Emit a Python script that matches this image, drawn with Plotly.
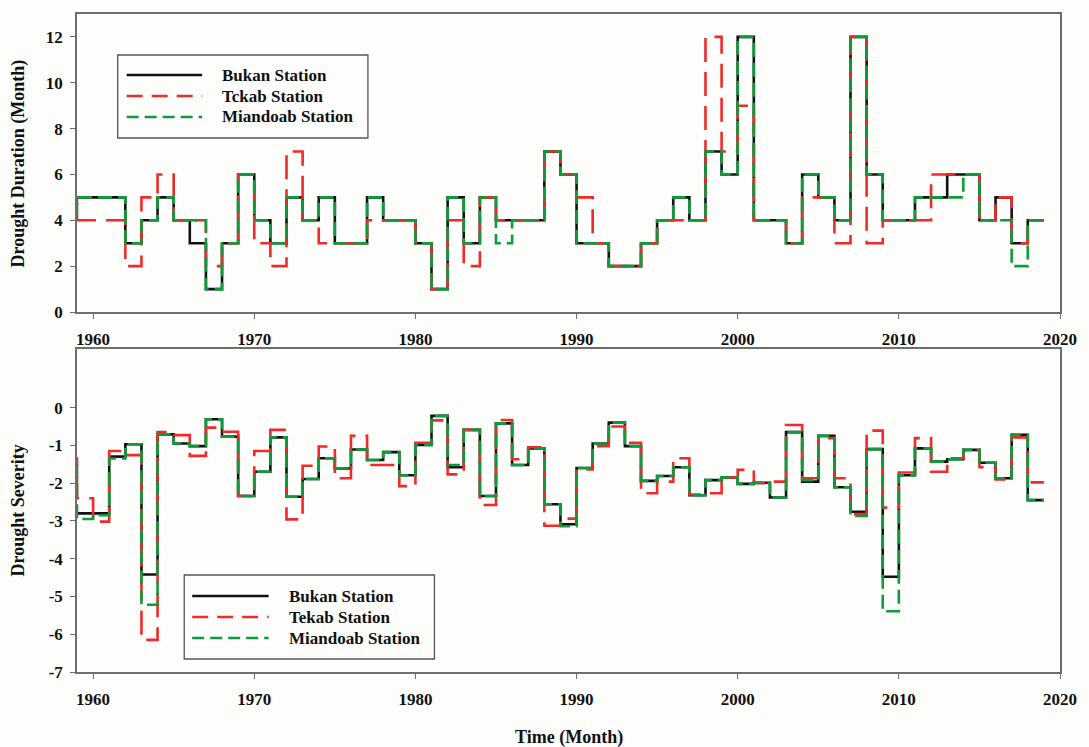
import plotly.graph_objects as go

# Annual drought statistics for three stations (step series, one value per year)
years = list(range(1958, 2019))

# Drought duration (months)
bukan_duration = [5, 5,
                  5, 5, 3, 4, 5, 4, 3, 1, 3, 6,
                  4, 3, 5, 4, 5, 3, 3, 5, 4, 4,
                  3, 1, 5, 3, 5, 4, 4, 4, 7, 6,
                  3, 3, 2, 2, 3, 4, 5, 4, 7, 6,
                  12, 4, 4, 3, 6, 5, 4, 12, 6, 4,
                  4, 5, 5, 6, 6, 4, 5, 3, 4]
tekab_duration = [5, 4,
                  4, 4, 2, 5, 6, 4, 4, 2, 3, 6,
                  3, 2, 7, 4, 3, 3, 3, 4, 4, 4,
                  3, 1, 4, 2, 5, 4, 4, 4, 7, 6,
                  5, 3, 2, 2, 3, 4, 4, 4, 12, 7,
                  9, 4, 4, 3, 5, 5, 3, 12, 3, 4,
                  4, 4, 6, 6, 6, 4, 5, 3, 4]
miandoab_duration = [4, 5,
                     5, 5, 3, 4, 5, 4, 4, 1, 3, 6,
                     4, 3, 5, 4, 5, 3, 3, 5, 4, 4,
                     3, 1, 5, 3, 5, 3, 4, 4, 7, 6,
                     3, 3, 2, 2, 3, 4, 5, 4, 7, 6,
                     12, 4, 4, 3, 6, 5, 4, 12, 6, 4,
                     4, 5, 5, 5, 6, 4, 4, 2, 4]

# Drought severity
bukan_severity = [-2.80, -2.80,
                  -2.80, -1.30, -0.97, -4.42, -0.71, -0.95, -1.02, -0.31, -0.77, -2.34,
                  -1.70, -0.79, -2.36, -1.89, -1.34, -1.61, -1.11, -1.39, -1.18, -1.79,
                  -0.99, -0.22, -1.58, -0.59, -2.34, -0.42, -1.52, -1.08, -2.56, -3.09,
                  -1.60, -0.95, -0.40, -1.02, -1.94, -1.81, -1.58, -2.32, -1.92, -1.85,
                  -2.02, -1.99, -2.38, -0.65, -1.96, -0.75, -2.11, -2.76, -1.10, -4.48,
                  -1.79, -1.08, -1.43, -1.37, -1.12, -1.46, -1.87, -0.72, -2.45]
tekab_severity = [-1.35, -2.40,
                  -3.02, -1.15, -1.26, -6.15, -0.65, -0.73, -1.28, -0.53, -0.64, -2.34,
                  -1.15, -0.59, -2.96, -1.54, -1.03, -1.87, -0.75, -1.52, -1.52, -2.08,
                  -0.93, -0.34, -1.77, -0.59, -2.58, -0.33, -1.37, -1.05, -3.13, -2.94,
                  -1.64, -1.02, -0.50, -0.93, -2.27, -1.96, -1.34, -2.30, -2.27, -1.85,
                  -1.65, -2.00, -1.96, -0.46, -1.87, -0.81, -1.87, -2.82, -0.61, -2.65,
                  -1.72, -0.81, -1.70, -1.34, -1.13, -1.58, -1.90, -0.79, -1.98]
miandoab_severity = [-1.40, -2.95,
                     -2.85, -1.35, -0.97, -5.22, -0.71, -0.95, -1.02, -0.31, -0.77, -2.34,
                     -1.70, -0.79, -2.36, -1.89, -1.34, -1.61, -1.11, -1.39, -1.18, -1.79,
                     -0.99, -0.22, -1.52, -0.59, -2.34, -0.42, -1.52, -1.08, -2.56, -3.14,
                     -1.60, -0.95, -0.40, -1.02, -1.94, -1.81, -1.58, -2.32, -1.92, -1.85,
                     -2.02, -1.99, -2.38, -0.65, -1.92, -0.75, -2.11, -2.87, -1.10, -5.39,
                     -1.79, -1.08, -1.43, -1.37, -1.12, -1.46, -1.87, -0.72, -2.45]

x_ticks = [1960, 1970, 1980, 1990, 2000, 2010, 2020]
duration_ticks = [0, 2, 4, 6, 8, 10, 12]
severity_ticks = [0, -1, -2, -3, -4, -5, -6, -7]
severity_ticktext = ["0", "-1", "-2", "-3", "-4", "-5", "-6", "-7"]

top_names = ["Bukan Station", "Tckab Station", "Miandoab Station"]
bottom_names = ["Bukan Station", "Tekab Station", "Miandoab Station"]

SERIF = "Liberation Serif"
BLACK = "#111111"
RED = "#ee2a2a"
GREEN = "#0f9a3c"
FRAME = "#6e6e6e"
BG = "#fdfdfb"

styles = [
    dict(color=BLACK, width=2.6, dash="solid"),
    dict(color=RED, width=2.6, dash="24px,10px"),
    dict(color=GREEN, width=2.6, dash="14px,6px"),
]
legend_dash = ["solid", "16px,9px", "12px,6px"]


def steps(vals):
    # each value holds for one year: extend to the end of the final year
    return years + [years[-1] + 1], list(vals) + [vals[-1]]


fig = go.Figure()
for vals, st in zip([bukan_duration, tekab_duration, miandoab_duration], styles):
    xs, ys = steps(vals)
    fig.add_trace(go.Scatter(x=xs, y=ys, mode="lines", line=dict(shape="hv", **st),
                             xaxis="x", yaxis="y", showlegend=False))
for vals, st in zip([bukan_severity, tekab_severity, miandoab_severity], styles):
    xs, ys = steps(vals)
    fig.add_trace(go.Scatter(x=xs, y=ys, mode="lines", line=dict(shape="hv", **st),
                             xaxis="x2", yaxis="y2", showlegend=False))

# plot-area geometry in pixels
W, H = 1089, 747
ML, MR, MT, MB = 77, 22, 14, 75
PW, PH = W - ML - MR, H - MT - MB


def px(xp):
    return (xp - ML) / PW


def py(yp):
    return (H - MB - yp) / PH


tickfont = dict(family=SERIF, size=17, color="#111111", weight="bold")
axis_common = dict(showline=True, linecolor=FRAME, linewidth=1.5, mirror=True,
                   showgrid=False, zeroline=False, ticks="outside", ticklen=5,
                   tickcolor=FRAME, tickwidth=1.2, tickfont=tickfont)

fig.update_layout(
    width=W, height=H,
    margin=dict(l=ML, r=MR, t=MT, b=MB),
    paper_bgcolor=BG, plot_bgcolor=BG,
    xaxis=dict(domain=[0, 1], range=[1959, 2020], tickvals=x_ticks, anchor="y",
               ticklabelstandoff=6, **axis_common),
    yaxis=dict(domain=[py(312), 1], range=[0, 13], tickvals=duration_ticks, anchor="x",
               ticklabelstandoff=4, **axis_common),
    xaxis2=dict(domain=[0, 1], range=[1959, 2020], tickvals=x_ticks, anchor="y2",
                ticklabelstandoff=6, **axis_common),
    yaxis2=dict(domain=[0, py(349)], range=[-7, 1.55], tickvals=severity_ticks,
                ticktext=severity_ticktext, anchor="x2", ticklabelstandoff=4, **axis_common),
)

titlefont = dict(family=SERIF, size=18, color="#111111", weight="bold")
for text, x, y, angle in [("Drought Duration (Month)", 18, 163, -90),
                          ("Drought Severity", 18, 510, -90),
                          ("Time (Month)", 572, 737, 0)]:
    fig.add_annotation(text=text, xref="paper", yref="paper", x=px(x), y=py(y),
                       xanchor="center", yanchor="middle", textangle=angle,
                       showarrow=False, font=titlefont)


def draw_legend(box, line_x, text_x, rows_y, names):
    x0, y0, x1, y1 = box
    fig.add_shape(type="rect", xref="paper", yref="paper",
                  x0=px(x0), x1=px(x1), y0=py(y0), y1=py(y1),
                  line=dict(color="#555555", width=1.3), fillcolor=BG, layer="above")
    for name, ry, st, dash in zip(names, rows_y, styles, legend_dash):
        fig.add_shape(type="line", xref="paper", yref="paper",
                      x0=px(line_x[0]), x1=px(line_x[1]), y0=py(ry), y1=py(ry),
                      line=dict(color=st["color"], width=2.6, dash=dash), layer="above")
        fig.add_annotation(text=name, xref="paper", yref="paper", x=px(text_x), y=py(ry),
                           xanchor="left", yanchor="middle", showarrow=False,
                           font=dict(family=SERIF, size=17, color="#111111", weight="bold"))


draw_legend((118, 55, 370, 138), (127, 203), 221, (75, 96, 117), top_names)
draw_legend((185, 575, 437, 659), (193, 270), 288, (596, 617, 638), bottom_names)

fig.write_html("out.html")
